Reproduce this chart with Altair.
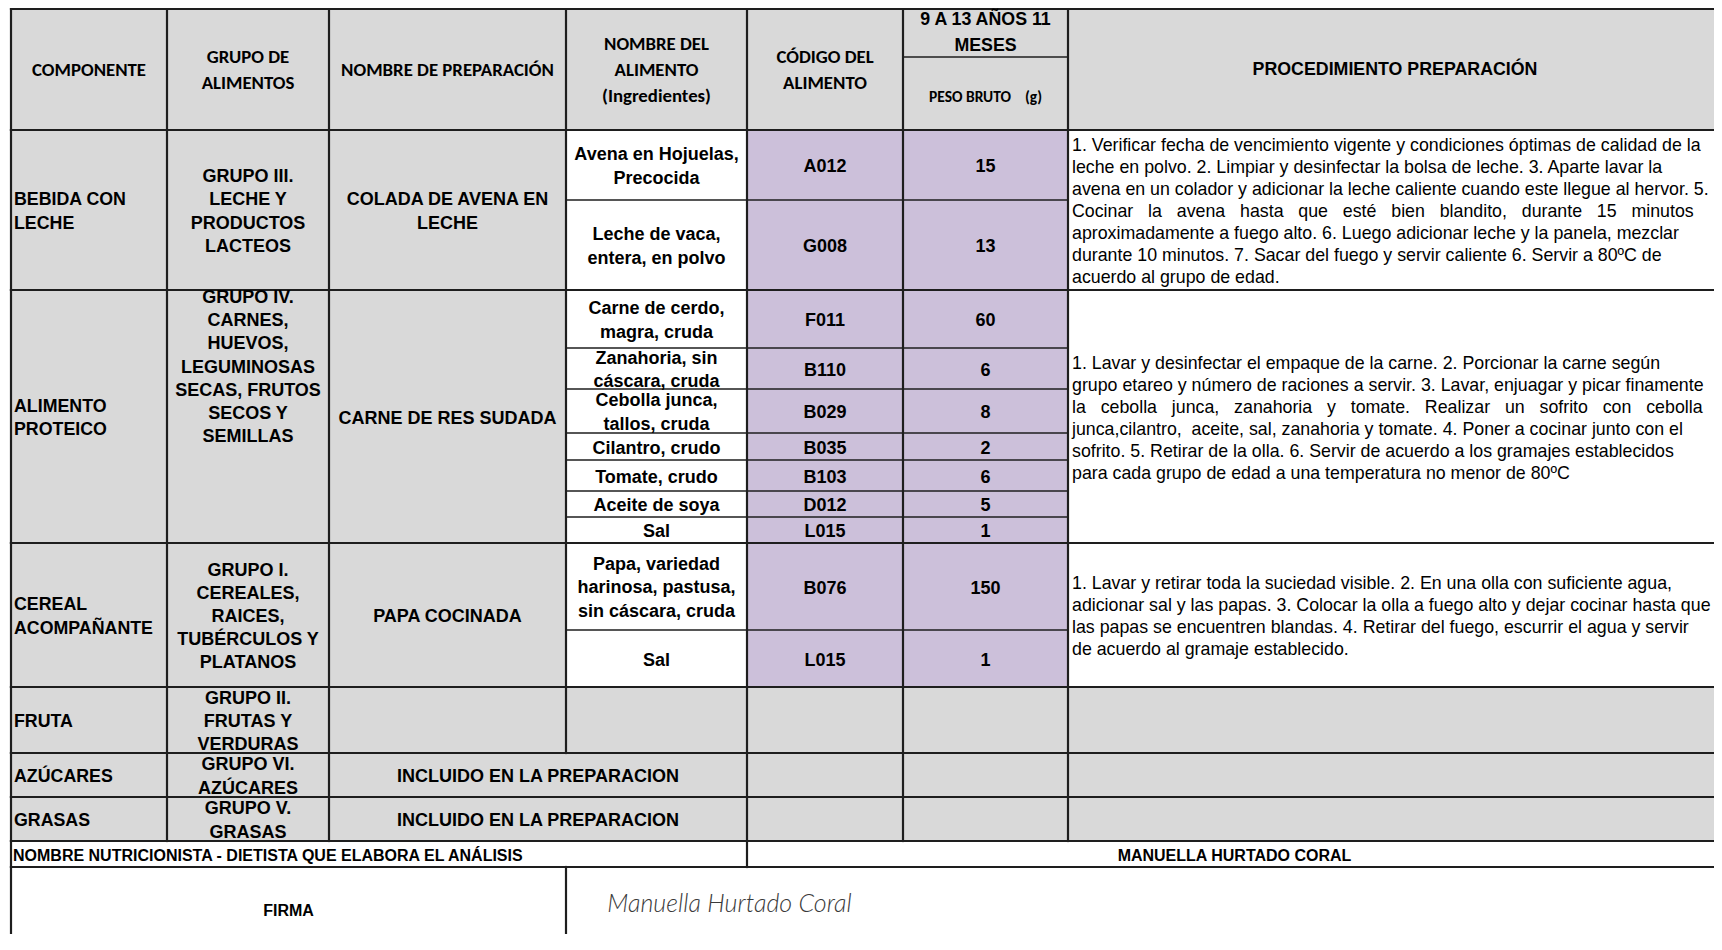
import altair as alt
import pandas as pd

NB = "\u00a0"

# ---------------- content ----------------
header_main = ["COMPONENTE", "GRUPO DE\nALIMENTOS", "NOMBRE DE PREPARACIÓN",
               "NOMBRE DEL\nALIMENTO\n(Ingredientes)", "CÓDIGO DEL\nALIMENTO"]
age_group = "9 A 13 AÑOS 11\nMESES"
weight_header = "PESO BRUTO" + NB * 4 + "(g)"
procedure_header = "PROCEDIMIENTO PREPARACIÓN"

components = ["BEBIDA CON\nLECHE", "ALIMENTO\nPROTEICO", "CEREAL\nACOMPAÑANTE",
              "FRUTA", "AZÚCARES", "GRASAS"]
groups = ["GRUPO III.\nLECHE Y\nPRODUCTOS\nLACTEOS",
          "GRUPO IV.\nCARNES,\nHUEVOS,\nLEGUMINOSAS\nSECAS, FRUTOS\nSECOS Y\nSEMILLAS",
          "GRUPO I.\nCEREALES,\nRAICES,\nTUBÉRCULOS Y\nPLATANOS",
          "GRUPO II.\nFRUTAS Y\nVERDURAS",
          "GRUPO VI.\nAZÚCARES",
          "GRUPO V.\nGRASAS"]
group_valign = ["middle", "top", "middle", "middle", "middle", "middle"]
preparations = ["COLADA DE AVENA EN\nLECHE", "CARNE DE RES SUDADA", "PAPA COCINADA"]
included = "INCLUIDO EN LA PREPARACION"

ingredients = ["Avena en Hojuelas,\nPrecocida", "Leche de vaca,\nentera, en polvo",
               "Carne de cerdo,\nmagra, cruda", "Zanahoria, sin\ncáscara, cruda",
               "Cebolla junca,\ntallos, cruda", "Cilantro, crudo", "Tomate, crudo",
               "Aceite de soya", "Sal",
               "Papa, variedad\nharinosa, pastusa,\nsin cáscara, cruda", "Sal"]
codes = ["A012", "G008", "F011", "B110", "B029", "B035", "B103", "D012", "L015", "B076", "L015"]
weights = [15, 13, 60, 6, 8, 2, 6, 5, 1, 150, 1]

procedures = [
    ["1. Verificar fecha de vencimiento vigente y condiciones óptimas de calidad de la",
     "leche en polvo. 2. Limpiar y desinfectar la bolsa de leche. 3. Aparte lavar la",
     "avena en un colador y adicionar la leche caliente cuando este llegue al hervor. 5.",
     "Cocinar   la   avena   hasta   que   esté   bien   blandito,   durante   15   minutos",
     "aproximadamente a fuego alto. 6. Luego adicionar leche y la panela, mezclar",
     "durante 10 minutos. 7. Sacar del fuego y servir caliente 6. Servir a 80ºC de",
     "acuerdo al grupo de edad."],
    ["1. Lavar y desinfectar el empaque de la carne. 2. Porcionar la carne según",
     "grupo etareo y número de raciones a servir. 3. Lavar, enjuagar y picar finamente",
     "la   cebolla   junca,   zanahoria   y   tomate.   Realizar   un   sofrito   con   cebolla",
     "junca,cilantro,  aceite, sal, zanahoria y tomate. 4. Poner a cocinar junto con el",
     "sofrito. 5. Retirar de la olla. 6. Servir de acuerdo a los gramajes establecidos",
     "para cada grupo de edad a una temperatura no menor de 80ºC"],
    ["1. Lavar y retirar toda la suciedad visible. 2. En una olla con suficiente agua,",
     "adicionar sal y las papas. 3. Colocar la olla a fuego alto y dejar cocinar hasta que",
     "las papas se encuentren blandas. 4. Retirar del fuego, escurrir el agua y servir",
     "de acuerdo al gramaje establecido."],
]

footer_label = "NOMBRE NUTRICIONISTA - DIETISTA QUE ELABORA EL ANÁLISIS"
nutritionist = "MANUELLA HURTADO CORAL"
signature_label = "FIRMA"
signature = "Manuella Hurtado Coral"

# ---------------- layout (table grid, reference pixels) ----------------
COLS = [11, 167, 329, 566, 747, 903, 1068, 1722]
HEAD = [5, 57, 130]
TOP_LINE = 9
BLOCKS = [[130, 200, 290], [290, 348, 389, 433, 460, 491, 517, 543], [543, 630, 687]]
PLAIN = [[687, 753], [753, 797], [797, 841]]
FOOT = [841, 867, 950]

GRAY = "#D9D9D9"
PURPLE = "#CCC0DA"
WHITE = "#FFFFFF"
LINE = "#1e1e1e"
ARIAL = "Arial, 'Liberation Sans', sans-serif"
CALIBRI = "Carlito, Lato, sans-serif"

W, H = 1706, 926
xs = alt.Scale(domain=[8, 8 + W], nice=False, zero=False)
ys = alt.Scale(domain=[8, 8 + H], nice=False, zero=False, reverse=True)


def mid(a, b):
    return (a + b) / 2


def keep_spaces(line):
    # SVG collapses runs of spaces; keep the wide gaps of justified lines
    return line.replace("   ", NB + NB + " ").replace("  ", NB + " ")


# rectangles
rects = [dict(x0=COLS[0], x1=COLS[-1], y0=TOP_LINE, y1=HEAD[2], fill=GRAY)]
for blk in BLOCKS:
    t, b = blk[0], blk[-1]
    rects += [dict(x0=COLS[0], x1=COLS[3], y0=t, y1=b, fill=GRAY),
              dict(x0=COLS[3], x1=COLS[4], y0=t, y1=b, fill=WHITE),
              dict(x0=COLS[4], x1=COLS[6], y0=t, y1=b, fill=PURPLE),
              dict(x0=COLS[6], x1=COLS[7], y0=t, y1=b, fill=WHITE)]
for t, b in PLAIN:
    rects.append(dict(x0=COLS[0], x1=COLS[-1], y0=t, y1=b, fill=GRAY))
rect_df = pd.DataFrame(rects)

# lines
main_lines, sub_lines = [], []
for yv in [TOP_LINE, HEAD[2]] + [blk[-1] for blk in BLOCKS] + [p[1] for p in PLAIN] + [FOOT[1]]:
    main_lines.append(dict(x0=COLS[0], x1=COLS[-1], y0=yv, y1=yv))
sub_lines.append(dict(x0=COLS[5], x1=COLS[6], y0=HEAD[1], y1=HEAD[1]))
for blk in BLOCKS:
    for e in blk[1:-1]:
        sub_lines.append(dict(x0=COLS[3], x1=COLS[6], y0=e, y1=e))


def verticals(cols, t, b):
    return [dict(x0=c, x1=c, y0=t, y1=b) for c in cols]


main_lines += verticals(COLS[:7], TOP_LINE, HEAD[2])
for blk in BLOCKS:
    main_lines += verticals(COLS[:7], blk[0], blk[-1])
main_lines += verticals(COLS[:7], PLAIN[0][0], PLAIN[0][1])
for t, b in PLAIN[1:]:
    main_lines += verticals([COLS[0], COLS[1], COLS[2], COLS[4], COLS[5], COLS[6]], t, b)
main_lines += verticals([COLS[0], COLS[4]], FOOT[0], FOOT[1])
main_lines += verticals([COLS[0], COLS[3]], FOOT[1], FOOT[2])
main_df = pd.DataFrame(main_lines)
sub_df = pd.DataFrame(sub_lines)

# texts (y = vertical centre of the text block)
hdr_cal = [dict(x=mid(COLS[i], COLS[i + 1]), y=mid(HEAD[0], HEAD[2]), text=header_main[i]) for i in range(5)]
hdr_arial = [dict(x=mid(COLS[5], COLS[6]), y=mid(HEAD[0], HEAD[1]), text=age_group),
             dict(x=mid(COLS[6], COLS[7]), y=mid(HEAD[0], HEAD[2]), text=procedure_header)]
hdr_small = [dict(x=mid(COLS[5], COLS[6]), y=mid(HEAD[1], HEAD[2]) + 1, text=weight_header)]

row_bounds = [(b[0], b[-1]) for b in BLOCKS] + [tuple(p) for p in PLAIN]
LH = 23.2
body_left = [dict(x=COLS[0] + 3, y=mid(t, b), text=components[i]) for i, (t, b) in enumerate(row_bounds)]
body_center = []
for i, (t, b) in enumerate(row_bounds):
    n = groups[i].count("\n") + 1
    yv = mid(t, b) if group_valign[i] == "middle" else t + 6 + (n - 1) * LH / 2
    body_center.append(dict(x=mid(COLS[1], COLS[2]), y=yv, text=groups[i]))
for i, prep in enumerate(preparations):
    t, b = row_bounds[i]
    body_center.append(dict(x=mid(COLS[2], COLS[3]), y=mid(t, b), text=prep))
for t, b in PLAIN[1:]:
    body_center.append(dict(x=mid(COLS[2], COLS[4]), y=mid(t, b), text=included))
subrows = [(blk[k], blk[k + 1]) for blk in BLOCKS for k in range(len(blk) - 1)]
for k, (t, b) in enumerate(subrows):
    body_center.append(dict(x=mid(COLS[3], COLS[4]), y=mid(t, b), text=ingredients[k]))
    body_center.append(dict(x=mid(COLS[4], COLS[5]), y=mid(t, b), text=codes[k]))
    body_center.append(dict(x=mid(COLS[5], COLS[6]), y=mid(t, b), text=str(weights[k])))

proc = [dict(x=COLS[6] + 4, y=mid(BLOCKS[i][0], BLOCKS[i][-1]),
             text="\n".join(keep_spaces(l) for l in lines))
        for i, lines in enumerate(procedures)]
foot_left = [dict(x=COLS[0] + 2, y=mid(FOOT[0], FOOT[1]), text=footer_label)]
foot_center = [dict(x=mid(COLS[4], COLS[7]), y=mid(FOOT[0], FOOT[1]), text=nutritionist),
               dict(x=mid(COLS[0], COLS[3]), y=mid(FOOT[1], FOOT[2]), text=signature_label)]
sig = [dict(x=mid(COLS[3], COLS[5]) - 5, y=mid(FOOT[1], FOOT[2]) - 7, text=signature)]


def rect_layer(df):
    return alt.Chart(df).mark_rect(strokeWidth=0).encode(
        x=alt.X("x0:Q", scale=xs, axis=None), x2="x1:Q",
        y=alt.Y("y0:Q", scale=ys, axis=None), y2="y1:Q",
        fill=alt.Fill("fill:N", scale=None))


def rule_layer(df, w):
    return alt.Chart(df).mark_rule(color=LINE, strokeWidth=w, strokeCap="square").encode(
        x=alt.X("x0:Q", scale=xs, axis=None), x2="x1:Q",
        y=alt.Y("y0:Q", scale=ys, axis=None), y2="y1:Q")


def text_layer(rows, color="#000000", lineHeight=22, **kw):
    df = pd.DataFrame(rows)
    # the first line sits at y; shift so the whole block is centred on y
    nlines = df["text"].str.count("\n")
    df["y"] = df["y"] - nlines * lineHeight / 2
    return alt.Chart(df).mark_text(lineBreak="\n", baseline="middle", color=color, dy=2,
                                   lineHeight=lineHeight, **kw).encode(
        x=alt.X("x:Q", scale=xs, axis=None),
        y=alt.Y("y:Q", scale=ys, axis=None),
        text="text:N")


chart = alt.layer(
    rect_layer(rect_df),
    rule_layer(sub_df, 1.6),
    rule_layer(main_df, 2.2),
    text_layer(hdr_cal, font=CALIBRI, fontWeight="bold", fontSize=18.8, align="center", lineHeight=26),
    text_layer(hdr_arial, font=ARIAL, fontWeight="bold", fontSize=17.8, align="center", lineHeight=26.5),
    text_layer(hdr_small, font=CALIBRI, fontWeight="bold", fontSize=15.5, align="center"),
    text_layer(body_left, font=ARIAL, fontWeight="bold", fontSize=17.8, align="left", lineHeight=LH),
    text_layer(body_center, font=ARIAL, fontWeight="bold", fontSize=18, align="center", lineHeight=LH),
    text_layer(proc, font=ARIAL, fontWeight="normal", fontSize=17.8, align="left", lineHeight=22),
    text_layer(foot_left, font=ARIAL, fontWeight="bold", fontSize=16, align="left"),
    text_layer(foot_center, font=ARIAL, fontWeight="bold", fontSize=16, align="center"),
    text_layer(sig, color="#3a3a3a", font="Lato, sans-serif", fontStyle="italic", fontWeight=300,
               fontSize=25, align="center"),
).properties(
    width=W, height=H, padding=0,
    autosize=alt.AutoSizeParams(type="none"), background="white",
).configure_view(stroke=None)

chart.save("out.html", embed_options={"renderer": "svg", "actions": False})
